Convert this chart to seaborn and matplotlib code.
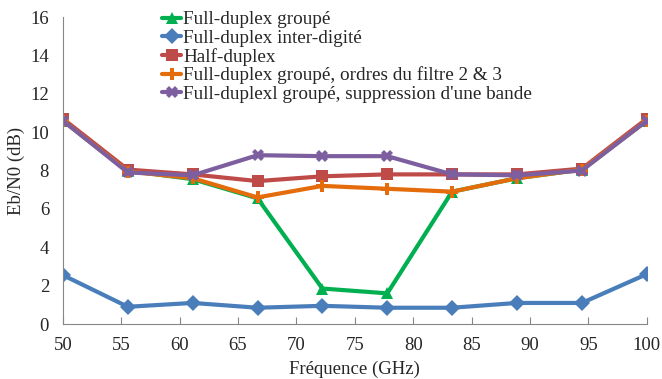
import pandas as pd
import numpy as np
import matplotlib
matplotlib.use('Agg')
import matplotlib.pyplot as plt
import seaborn as sns

sns.set_style('ticks')
plt.rcParams['font.family'] = ['Liberation Serif', 'DejaVu Serif']

# données
freq = [50, 55.56, 61.11, 66.67, 72.22, 77.78, 83.33, 88.89, 94.44, 100]
fd_groupe = [10.6, 8.0, 7.55, 6.55, 1.85, 1.6, 6.9, 7.6, 8.05, 10.6]
fd_interdigite = [2.55, 0.9, 1.1, 0.85, 0.95, 0.85, 0.85, 1.1, 1.1, 2.6]
half_duplex = [10.7, 8.05, 7.8, 7.45, 7.7, 7.8, 7.8, 7.8, 8.1, 10.7]
fd_ordres = [10.6, 7.95, 7.6, 6.6, 7.2, 7.05, 6.9, 7.6, 8.05, 10.6]
fd_suppr = [10.6, 7.9, 7.75, 8.8, 8.75, 8.75, 7.8, 7.75, 8.0, 10.6]

noms = ['Full-duplex groupé',
        'Full-duplex inter-digité',
        'Half-duplex',
        'Full-duplex groupé, ordres du filtre 2 & 3',
        "Full-duplexl groupé, suppression d'une bande"]
series = [fd_groupe, fd_interdigite, half_duplex, fd_ordres, fd_suppr]
couleurs = ['#00B050', '#4A7EBB', '#BE4B48', '#E46C0A', '#7D5FA0']
marqueurs = ['^', 'D', 's', 'P', 'X']

df = pd.DataFrame({
    'freq': np.tile(freq, len(noms)),
    'ebn0': np.concatenate(series),
    'serie': np.repeat(noms, len(freq)),
})

fig, ax = plt.subplots(figsize=(6.62, 3.79), dpi=100)
fig.subplots_adjust(left=0.095, right=0.977, top=0.955, bottom=0.145)

sns.lineplot(data=df, x='freq', y='ebn0', hue='serie', style='serie',
             hue_order=noms, style_order=noms,
             palette=dict(zip(noms, couleurs)),
             markers=dict(zip(noms, marqueurs)), dashes=False,
             linewidth=3, markersize=8, markeredgewidth=0, ax=ax)

ax.set_xlim(50, 100)
ax.set_ylim(0, 16)
ax.set_xticks(np.arange(50, 101, 5))
ax.set_yticks(np.arange(0, 17, 2))
ax.set_xlabel('Fréquence (GHz)', fontsize=13.5, labelpad=5)
ax.set_ylabel('Eb/N0 (dB)', fontsize=13.5, labelpad=4)
ax.tick_params(axis='x', direction='in', color='#868686', labelsize=13.5, length=5, pad=9)
ax.tick_params(axis='y', length=0, labelsize=13.5, pad=10)
for s in ['top', 'right']:
    ax.spines[s].set_visible(False)
for s in ['left', 'bottom']:
    ax.spines[s].set_color('#868686')

leg = ax.legend(loc='upper left', bbox_to_anchor=(0.157, 1.045), frameon=False,
                fontsize=13.8, handlelength=1.0, handletextpad=0.1,
                labelspacing=0.05, borderaxespad=0)

plt.savefig('out.png', dpi=100)
